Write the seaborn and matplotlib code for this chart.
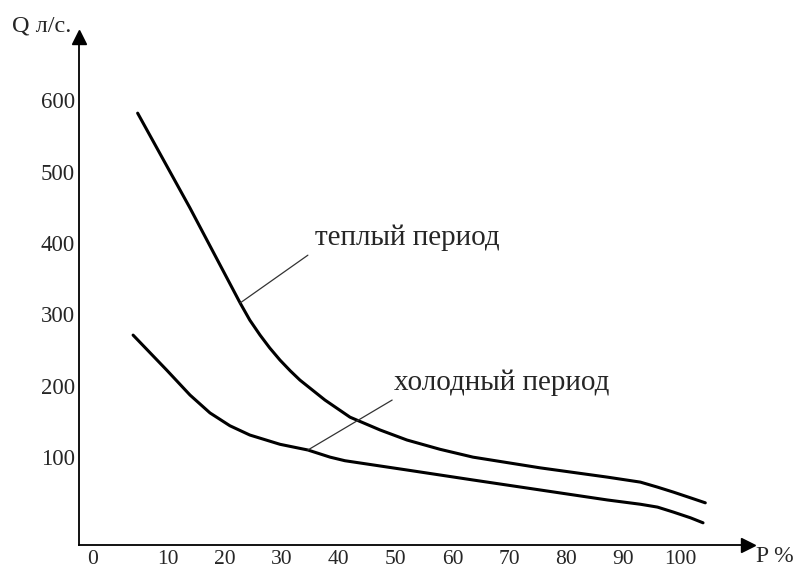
"""Q vs P curves for warm and cold periods (duration-type chart)."""
import matplotlib; matplotlib.use("Agg")
import matplotlib.pyplot as plt
import seaborn as sns
import pandas as pd

# values
warm_p = [4.7, 13.9, 22.7, 24.4, 26.2, 27.9, 29.7, 31.5, 33.2, 37.6, 42.0, 47.3, 52.0,
          57.8, 63.6, 75.4, 87.2, 93.0, 96.0, 98.8, 101.8, 104.4]
warm_q = [582, 449, 316, 292, 271, 253, 236, 221, 208, 180, 156, 138, 124,
          111, 100, 85, 72, 65, 58, 51, 43, 36]
cold_p = [3.9, 9.8, 13.9, 17.4, 20.9, 24.4, 29.7, 34.6, 38.5, 41.1, 52.0, 63.6,
          75.4, 87.2, 93.0, 96.0, 98.8, 101.8, 104.0]
cold_q = [271, 222, 187, 162, 144, 131, 118, 110, 100, 95, 82, 68,
          54, 40, 34, 30, 23, 15, 8]
x_ticks = [0, 10, 20, 30, 40, 50, 60, 70, 80, 90, 100]
y_ticks = [100, 200, 300, 400, 500, 600]

sns.set_style("white")
plt.rcParams["font.family"] = ["Liberation Serif", "DejaVu Serif"]

df = pd.concat([
    pd.DataFrame({"P": warm_p, "Q": warm_q, "period": "теплый период"}),
    pd.DataFrame({"P": cold_p, "Q": cold_q, "period": "холодный период"}),
])

fig = plt.figure(figsize=(8.03, 5.71), dpi=100)
W, H = 803, 571
ax = fig.add_axes([79 / W, 1 - 545 / H, (748 - 79) / W, (545 - 37) / H])
sns.lineplot(data=df, x="P", y="Q", hue="period", palette=["black", "black"],
             sort=False, estimator=None, legend=False, linewidth=2.2, ax=ax)

ax.set_xlim(-5.6, 111.9); ax.set_ylim(-23.1, 688.7)
for s in ["top", "right"]: ax.spines[s].set_visible(False)
for s in ["left", "bottom"]:
    ax.spines[s].set_color("black"); ax.spines[s].set_linewidth(1.3)
ax.plot(1, 0, ">k", transform=ax.transAxes, clip_on=False, markersize=10)
ax.plot(0, 1, "^k", transform=ax.transAxes, clip_on=False, markersize=10)

xt = [-3.2] + x_ticks[1:]  # the "0" label sits a bit left in the original
ax.set_xticks(xt); ax.set_xticklabels([str(t) for t in x_ticks])
ax.set_yticks(y_ticks); ax.set_yticklabels([str(t) for t in y_ticks])
ax.tick_params(axis="x", length=0, pad=3.5, labelsize=15.5)
ax.tick_params(axis="y", length=0, pad=3, labelsize=16.5)
ax.set_xlabel(""); ax.set_ylabel("")

# leader lines + labels
ax.annotate("", xy=(22.7, 316), xytext=(34.6, 383),
            arrowprops=dict(arrowstyle="-", color="#333333", lw=0.9, shrinkA=0, shrinkB=0))
ax.text(35.9, 407, "теплый период", fontsize=21, va="center", ha="left")
ax.annotate("", xy=(34.6, 110), xytext=(49.4, 180),
            arrowprops=dict(arrowstyle="-", color="#333333", lw=0.9, shrinkA=0, shrinkB=0))
ax.text(49.8, 204, "холодный период", fontsize=21, va="center", ha="left")

fig.text(12 / W, 1 - 26 / H, "Q л/с.", fontsize=17.5, va="center", ha="left")
fig.text(756 / W, 1 - 557 / H, "P %", fontsize=17, va="center", ha="left")

fig.savefig("out.png", dpi=100)
